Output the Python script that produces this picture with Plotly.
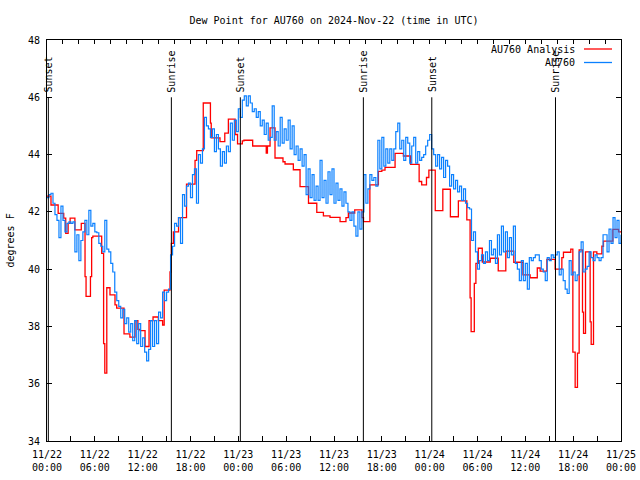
import plotly.graph_objects as go
import pandas as pd

# ---------------- data ----------------
title_text = "Dew Point for AU760 on 2024-Nov-22 (time in UTC)"
start_time = "2024-11-22 00:00"
end_time = "2024-11-25 00:00"

# AU760 Analysis (step series): hours after start, value (deg F)
red_hours = [0.0, 0.5, 1.4, 2.1, 2.35, 2.65, 2.9, 3.5, 4.3, 4.77, 4.9, 5.45, 5.6, 5.75,
             6.86, 7.1, 7.25, 7.5, 7.9, 8.53, 8.74, 9.66, 10.4, 11.04, 11.4, 11.67, 12.3,
             12.8, 13.3, 13.97, 14.5, 14.7, 15.43, 15.55, 15.6, 15.85, 16.5, 17.5, 18.57,
             18.78, 19.6, 20.5, 20.6, 21.7, 22.3, 22.75, 23.6, 23.9, 24.5, 24.7, 25.8,
             27.5, 27.65, 27.98, 28.6, 29.6, 29.86, 30.9, 31.74, 32.8, 33.84, 34.67, 35.5,
             36.76, 37.5, 37.8, 38.6, 39.5, 39.7, 40.5, 41.57, 42.0, 42.4, 43.66, 44.7,
             45.6, 46.68, 47.0, 47.6, 47.9, 48.7, 49.65, 50.6, 51.6, 52.66, 53.07, 53.2,
             53.6, 53.8, 54.1, 54.6, 55.6, 56.6, 57.55, 58.55, 59.7, 60.6, 61.5, 61.86,
             62.7, 63.74, 64.58, 64.78, 65.7, 65.96, 66.25, 66.54, 66.75, 67.17, 67.3,
             67.55, 68.13, 68.26, 68.55, 68.97, 69.6, 69.8, 70.98, 71.7, 72.0]
red_values = [42.55, 42.24, 41.95, 41.78, 41.25, 41.6, 41.78, 41.37, 41.6, 39.74, 39.05, 39.74, 41.1, 41.15,
              40.55, 37.4, 36.37, 39.35, 39.1, 38.75, 38.64, 37.74, 37.63, 38.2, 37.9, 37.85, 37.3,
              38.2, 38.33, 38.2, 38.05, 39.27, 39.9, 40.5, 40.9, 41.3, 41.8, 42.97, 43.8,
              44.14, 45.8, 45.1, 44.58, 44.45, 44.75, 45.24, 44.7, 44.37, 44.48, 44.5, 44.3,
              44.05, 44.3, 44.93, 43.88, 43.75, 43.67, 43.47, 42.88, 42.3, 41.98, 41.86, 41.81,
              41.66, 41.8, 41.96, 42.07, 41.8, 41.66, 42.94, 43.41, 43.46, 43.55, 44.04, 43.95,
              43.66, 43.06, 42.94, 43.2, 43.46, 42.04, 42.79, 41.83, 42.38, 41.72, 39.0, 37.82,
              39.5, 40.2, 40.73, 40.25, 40.38, 39.94, 40.63, 40.24, 39.8, 39.7, 40.04, 39.93,
              40.34, 40.0, 40.4, 40.59, 40.7, 37.1, 35.87, 37.07, 40.67, 38.5, 37.76,
              40.6, 38.16, 37.37, 40.6, 40.53, 40.8, 40.98, 41.39, 41.3, 41.3]

# AU760 observations, one value every 15 minutes from the start
blue_step = "15min"
blue_values = [
    42.5, 42.6, 42.65, 42.3, 41.9, 41.7, 41.1, 42.2, 41.7, 41.3, 41.6, 41.65,
    41.6, 41.65, 40.6, 41.2, 40.3, 41.0, 41.3, 41.7, 41.2, 42.05, 41.5, 41.6,
    41.3, 41.27, 40.9, 40.8, 40.6, 41.7, 40.7, 40.6, 40.2, 39.9, 39.2, 38.9,
    38.7, 38.3, 38.6, 38.1, 38.3, 37.8, 38.1, 37.5, 38.2, 37.4, 38.1, 37.3,
    37.6, 37.1, 36.8, 37.2, 38.2, 37.3, 38.2, 37.4, 38.5, 38.3, 39.2, 38.9,
    39.2, 39.3, 40.5, 40.8, 41.6, 41.5, 41.8, 40.9, 42.6, 42.2, 42.9, 43.0,
    42.5, 43.3, 43.5, 42.3, 44.0, 43.7, 44.2, 45.3, 45.0, 44.9, 44.6, 44.9,
    44.1, 44.7, 44.2, 43.6, 44.1, 43.7, 44.3, 44.1, 45.1, 44.5, 45.2, 44.8,
    45.6, 45.3, 45.9, 46.05, 45.7, 46.05, 45.8, 45.5, 45.6, 45.3, 45.5, 45.0,
    45.2, 44.7, 45.1, 44.5, 44.6, 45.7, 44.5, 44.8, 44.3, 45.3, 44.4, 44.9,
    44.5, 45.2, 44.2, 45.0, 44.0, 44.3, 43.8, 44.2, 43.6, 44.0, 42.6, 43.5,
    42.5, 43.3, 42.4, 42.9, 42.4, 43.8, 42.5, 43.1, 42.3, 43.4, 42.6, 43.5,
    42.3, 43.0, 42.4, 42.8, 42.2, 42.7, 42.3, 42.0, 41.7, 42.0, 41.5, 41.15,
    42.0, 41.4, 42.0, 43.3, 42.3, 42.8, 43.3, 43.1, 43.2, 42.9, 44.5, 43.5,
    44.6, 43.6, 44.2, 43.7, 44.2, 43.8, 44.2, 44.8, 45.1, 44.2, 44.5, 43.8,
    44.6, 44.4, 43.7, 44.3, 44.6, 43.7, 44.1, 43.8, 43.9, 44.0, 44.3, 44.5,
    44.7, 44.2, 44.0, 43.6, 44.0, 43.5, 43.9, 43.2, 43.8, 43.6, 42.9, 43.3,
    42.8, 43.1, 42.7, 42.9, 42.4, 42.8, 42.3, 42.15, 42.1, 41.0, 41.3, 40.6,
    40.0, 40.3, 40.5, 40.2, 40.6, 40.3, 41.0, 40.5, 40.7, 40.2, 41.2, 40.5,
    41.5, 40.6, 41.3, 40.4, 41.1, 40.5, 41.5, 40.2, 40.0, 39.6, 40.3, 39.6,
    40.2, 39.3, 40.4, 40.3, 40.4, 40.5, 40.5, 40.3, 40.0, 39.9, 39.6, 40.4,
    40.3, 40.5, 40.4, 40.5, 40.6, 39.8, 40.0, 39.6, 39.3, 39.15, 40.3, 39.8,
    39.9, 39.6, 39.8, 40.6, 40.95, 39.9, 40.0, 40.1, 40.6, 40.4, 40.3, 40.5,
    40.4, 40.3, 40.4, 41.2, 41.2, 40.6, 41.4, 40.9, 41.8, 41.1, 41.7, 40.9,
    41.2]

sun_times = ["2024-11-22 00:10", "2024-11-22 15:36", "2024-11-23 00:15",
             "2024-11-23 15:41", "2024-11-24 00:16", "2024-11-24 15:47"]
sun_labels = ["Sunset", "Sunrise", "Sunset", "Sunrise", "Sunset", "Sunrise"]
sun_line_top = 46

x_tick_times = pd.date_range(start_time, end_time, freq="3h")
x_tick_labels = ["11/22<br>00:00", "", "11/22<br>06:00", "", "11/22<br>12:00", "",
                 "11/22<br>18:00", "", "11/23<br>00:00", "", "11/23<br>06:00", "",
                 "11/23<br>12:00", "", "11/23<br>18:00", "", "11/24<br>00:00", "",
                 "11/24<br>06:00", "", "11/24<br>12:00", "", "11/24<br>18:00", "",
                 "11/25<br>00:00"]
x2_tick_times = pd.date_range(start_time, end_time, freq="2h")
y_ticks = [34, 36, 38, 40, 42, 44, 46, 48]

series_names = ["AU760 Analysis", "AU760"]
series_colors = ["#ff0000", "#0a80ff"]

# ---------------- figure ----------------
FONT = "DejaVu Sans Mono"
t0 = pd.Timestamp(start_time)
red_x = [t0 + pd.Timedelta(hours=h) for h in red_hours]
blue_x = pd.date_range(start_time, periods=len(blue_values), freq=blue_step)

fig = go.Figure()
fig.add_trace(go.Scatter(x=red_x, y=red_values, mode="lines", line_shape="hv",
                         line=dict(color=series_colors[0], width=1.3),
                         name=series_names[0], showlegend=False))
fig.add_trace(go.Scatter(x=blue_x, y=blue_values, mode="lines", line_shape="hv",
                         line=dict(color=series_colors[1], width=1.2),
                         name=series_names[1], showlegend=False))
# invisible trace to activate the top axis
fig.add_trace(go.Scatter(x=[start_time, end_time], y=[None, None], xaxis="x2",
                         mode="lines", showlegend=False, hoverinfo="skip"))

# sunrise / sunset lines and labels
for t, lab in zip(sun_times, sun_labels):
    fig.add_shape(type="line", xref="x", yref="y", x0=t, x1=t, y0=y_ticks[0], y1=sun_line_top,
                  line=dict(color="black", width=1), layer="above")
    fig.add_annotation(x=t, y=sun_line_top, xref="x", yref="y", text=lab, showarrow=False,
                       textangle=-90, xanchor="center", yanchor="bottom", yshift=3,
                       font=dict(family=FONT, size=10, color="black"))

# legend (gnuplot style: text right, sample line to its right)
W, H, L, T = 640, 480, 47, 40
PW, PH = 574, 401
def px(x):
    return (x - L) / PW
def py(y):
    return (T + PH - y) / PH
for i, (nm, col) in enumerate(zip(series_names, series_colors)):
    yy = 49 + i * 13.5
    fig.add_annotation(x=px(577), y=py(yy), xref="paper", yref="paper", text=nm,
                       showarrow=False, xanchor="right", yanchor="middle",
                       font=dict(family=FONT, size=10, color="black"))
    fig.add_shape(type="line", xref="paper", yref="paper", x0=px(584), x1=px(612),
                  y0=py(yy), y1=py(yy), line=dict(color=col, width=1.3))

# y-axis title
fig.add_annotation(x=px(10), y=0.5, xref="paper", yref="paper", text="degrees F",
                   showarrow=False, textangle=-90, xanchor="center", yanchor="middle",
                   font=dict(family=FONT, size=10, color="black"))

fig.update_layout(
    width=W, height=H,
    margin=dict(l=L, r=W - L - PW, t=T, b=H - T - PH, pad=0, autoexpand=False),
    paper_bgcolor="white", plot_bgcolor="white",
    showlegend=False,
    font=dict(family=FONT, size=10, color="black"),
    title=dict(text=title_text, x=0.5, xref="paper", xanchor="center",
               y=1 - 20 / H, yanchor="middle", font=dict(family=FONT, size=10, color="black")),
    xaxis=dict(type="date", range=[start_time, end_time], tickmode="array",
               tickvals=list(x_tick_times), ticktext=x_tick_labels,
               ticks="inside", ticklen=5, tickcolor="black", tickwidth=1,
               showline=True, linecolor="black", linewidth=1, mirror=False,
               showgrid=False, zeroline=False, automargin=False, ticklabelstandoff=4,
               tickfont=dict(family=FONT, size=10)),
    xaxis2=dict(type="date", range=[start_time, end_time], overlaying="x", side="top",
                anchor="y", tickmode="array", tickvals=list(x2_tick_times),
                showticklabels=False, ticks="inside", ticklen=4, tickcolor="black",
                showline=True, linecolor="black", linewidth=1, showgrid=False,
                zeroline=False, automargin=False),
    yaxis=dict(range=[34, 48], tickmode="array", tickvals=y_ticks,
               ticks="inside", ticklen=5, tickcolor="black", tickwidth=1,
               showline=True, linecolor="black", linewidth=1, mirror="ticks",
               showgrid=False, zeroline=False, automargin=False, ticklabelstandoff=4,
               tickfont=dict(family=FONT, size=10)),
)

fig.write_html("out.html", config={"displayModeBar": False},
               post_script="document.body.style.margin='0';")
